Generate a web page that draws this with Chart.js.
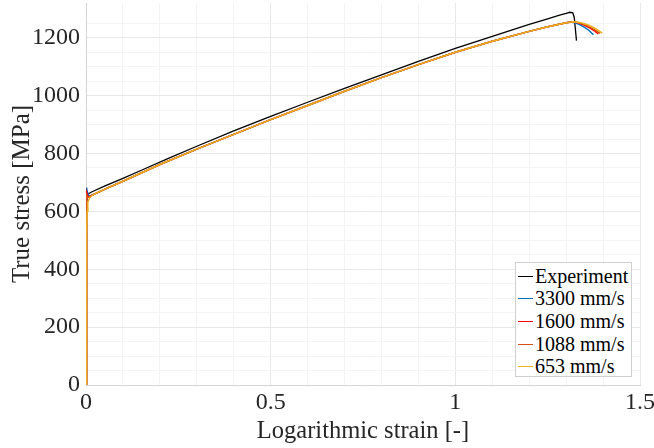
<!DOCTYPE html>
<html>
<head>
<meta charset="utf-8">
<script src="https://cdn.jsdelivr.net/npm/chart.js@4/dist/chart.umd.min.js"></script>
<style>
    html, body { margin: 0; padding: 0; background: #fff; }
    #wrap { position: relative; width: 654px; height: 448px; }
    #legend {
        position: absolute; left: 515px; top: 262px; width: 117px; height: 115px;
        box-sizing: border-box; border: 1px solid #d0d0d0; background: #fff;
        font-family: "Liberation Serif", "Times New Roman", serif; font-size: 20px; color: #000;
        padding-top: 2px;
    }
    .row { display: flex; align-items: center; height: 22.6px; white-space: nowrap; }
    .swatch { display: inline-block; width: 15px; height: 0; margin: 0 2px 0 2px; border-top: 1.5px solid; }
</style>
</head>
<body>
<div id="wrap">
    <canvas id="chart" width="654" height="448"></canvas>
    <div id="legend"></div>
</div>
<script>
// Experiment
const expStrain = [0, 0.0008, 0.0015, 0.003, 0.008, 0.015, 0.05, 0.1, 0.15, 0.223, 0.3, 0.4, 0.5, 0.6, 0.7, 0.8, 0.9, 1.0, 1.1, 1.2, 1.25, 1.28, 1.30, 1.31, 1.318, 1.322, 1.325, 1.328];
const expStress = [0, 300, 600, 655, 662, 667, 687, 714, 742, 783, 825, 878, 928, 977, 1025, 1072, 1118, 1163, 1205, 1246, 1265, 1277, 1284, 1288, 1286, 1270, 1230, 1190];

// shared simulated hardening curve (after the initial yield)
const simStrain = [0.02, 0.05, 0.1, 0.2, 0.3, 0.4, 0.5, 0.6, 0.7, 0.8, 0.9, 1.0, 1.1, 1.2, 1.25, 1.3];
const simStress = [658, 676, 704, 762, 815, 866, 917, 966, 1015, 1062, 1107, 1150, 1188, 1222, 1238, 1252];

// initial yield part of each simulation
const startStrain3300 = [0, 0.001, 0.0015, 0.002, 0.004, 0.008, 0.015];
const startStress3300 = [0, 300, 600, 682, 665, 652, 656];
const startStrain1600 = [0, 0.001, 0.0015, 0.002, 0.005, 0.01, 0.015];
const startStress1600 = [0, 300, 600, 667, 652, 650, 655];
const startStrain1088 = [0, 0.001, 0.0015, 0.002, 0.005, 0.01, 0.015];
const startStress1088 = [0, 300, 590, 657, 648, 649, 654];
const startStrain653 = [0, 0.001, 0.002, 0.003, 0.005, 0.01, 0.015];
const startStress653 = [0, 300, 520, 600, 632, 647, 653];

// necking / failure part of each simulation
const endStrain3300 = [1.31, 1.32, 1.335, 1.35, 1.362, 1.374];
const endStress3300 = [1254, 1253, 1246, 1236, 1225, 1210];
const endStrain1600 = [1.32, 1.335, 1.35, 1.365, 1.378, 1.387];
const endStress1600 = [1255, 1251, 1243, 1233, 1223, 1213];
const endStrain1088 = [1.32, 1.34, 1.355, 1.37, 1.382, 1.392];
const endStress1088 = [1255, 1251, 1243, 1233, 1224, 1215];
const endStrain653 = [1.32, 1.34, 1.36, 1.38, 1.398];
const endStress653 = [1255, 1252, 1244, 1231, 1216];

const seriesLabels = ['Experiment', '3300 mm/s', '1600 mm/s', '1088 mm/s', '653 mm/s'];
const seriesColors = ['#000000', '#0072BD', '#FF0000', '#D95319', '#EDB120'];

const yTickLabels = [0, 200, 400, 600, 800, 1000, 1200];
const xTickLabels = [0, 0.5, 1, 1.5];

const FONT = '"Liberation Serif", "Times New Roman", serif';

const toPoints = (xs, ys) => xs.map((x, i) => ({ x, y: ys[i] }));

const simPoints = (sx, sy, ex, ey) => [
    ...toPoints(sx, sy),
    ...toPoints(simStrain, simStress),
    ...toPoints(ex, ey),
];

const seriesData = [
    toPoints(expStrain, expStress),
    simPoints(startStrain3300, startStress3300, endStrain3300, endStress3300),
    simPoints(startStrain1600, startStress1600, endStrain1600, endStress1600),
    simPoints(startStrain1088, startStress1088, endStrain1088, endStress1088),
    simPoints(startStrain653, startStress653, endStrain653, endStress653),
];

const datasets = seriesLabels.map((label, i) => ({
    label,
    data: seriesData[i],
    borderColor: seriesColors[i],
    borderWidth: i === 0 ? 1.3 : 1.5,
    pointRadius: 0,
    fill: false,
    tension: 0,
    order: seriesLabels.length - 1 - i,
}));

const isMajor = (value, values) => values.some((v) => Math.abs(v - value) < 1e-6);

const initChart = () => {
    const canvas = document.getElementById('chart');

    const chart = new Chart(canvas, {
        type: 'line',
        data: { datasets },
        options: {
            responsive: false,
            animation: false,
            layout: { padding: { top: 3, right: 14, left: 0, bottom: 0 } },
            plugins: { legend: { display: false }, tooltip: { enabled: false } },
            scales: {
                x: {
                    type: 'linear',
                    min: 0,
                    max: 1.5,
                    afterBuildTicks: (scale) => {
                        scale.ticks = scale.ticks.filter((t) => Math.abs(t.value * 10 - Math.round(t.value * 10)) < 1e-6);
                    },
                    afterFit: (scale) => {
                        scale.height = 63;
                        scale.paddingLeft = 0;
                        scale.paddingRight = 0;
                    },
                    ticks: {
                        stepSize: 0.1,
                        autoSkip: false,
                        maxRotation: 0,
                        padding: 3,
                        color: '#262626',
                        font: { family: FONT, size: 24 },
                        callback: (value) => (isMajor(value, xTickLabels) ? String(Math.round(value * 10) / 10) : ''),
                    },
                    grid: {
                        drawTicks: false,
                        color: (ctx) => (ctx.tick && isMajor(ctx.tick.value, xTickLabels) ? '#e8e8e8' : '#f4f4f4'),
                    },
                    border: { color: '#d4d4d4' },
                    title: {
                        display: true,
                        text: 'Logarithmic strain [-]',
                        color: '#262626',
                        font: { family: FONT, size: 24.5 },
                        padding: { top: 0, bottom: 2 },
                    },
                },
                y: {
                    type: 'linear',
                    min: 0,
                    max: 1320,
                    afterBuildTicks: (scale) => {
                        scale.ticks = scale.ticks.filter((t) => t.value % 50 === 0);
                    },
                    afterFit: (scale) => {
                        scale.width = 86;
                        scale.paddingTop = 0;
                        scale.paddingBottom = 0;
                    },
                    ticks: {
                        stepSize: 50,
                        autoSkip: false,
                        padding: 6,
                        color: '#262626',
                        font: { family: FONT, size: 24 },
                        callback: (value) => (yTickLabels.includes(value) ? String(value) : ''),
                    },
                    grid: {
                        drawTicks: false,
                        color: (ctx) => (ctx.tick && yTickLabels.includes(ctx.tick.value) ? '#e8e8e8' : '#f4f4f4'),
                    },
                    border: { color: '#d4d4d4' },
                    title: {
                        display: true,
                        text: 'True stress [MPa]',
                        color: '#262626',
                        font: { family: FONT, size: 25 },
                        padding: { top: 7, bottom: 0 },
                    },
                },
            },
        },
    });

    const legend = document.getElementById('legend');
    chart.data.datasets.forEach((ds) => {
        const row = document.createElement('div');
        row.className = 'row';
        const swatch = document.createElement('span');
        swatch.className = 'swatch';
        swatch.style.borderTopColor = ds.borderColor;
        const text = document.createElement('span');
        text.textContent = ds.label;
        row.append(swatch, text);
        legend.append(row);
    });
};

document.addEventListener('DOMContentLoaded', initChart);
</script>
</body>
</html>
